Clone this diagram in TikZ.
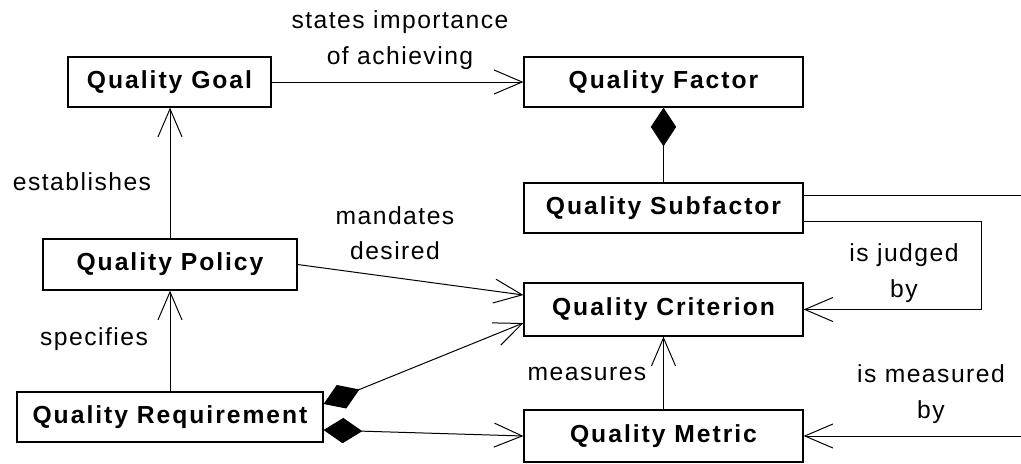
\documentclass[tikz,border=0pt]{standalone}
\usepackage{fontspec}
\setmainfont{Liberation Sans}
\usetikzlibrary{arrows.meta,calc}
\tikzset{
  barb/.tip={Straight Barb[length=21pt,width=18pt]},
  dia/.tip={Diamond[length=29pt,width=19pt]}
}
\begin{document}
\begin{tikzpicture}[x=0.75pt,y=-0.75pt,
  cls/.style={draw,line width=0.9pt,inner sep=0pt,
    font=\fontsize{18.5}{22}\selectfont\bfseries\addfontfeature{LetterSpace=8}},
  lbl/.style={inner sep=0pt,align=center,
    font=\fontsize{18.5}{26.5}\selectfont\addfontfeature{LetterSpace=6}},
  conn/.style={line width=0.75pt}]
\useasboundingbox (0,0) rectangle (1021,464);
\clip (0,0) rectangle (1021,464);

% classes
\node[cls,minimum width=152.25pt,minimum height=37.5pt] (goal)   at (169.5,82)  {Quality Goal};
\node[cls,minimum width=209.25pt,minimum height=37.5pt] (factor) at (663.5,82)  {Quality Factor};
\node[cls,minimum width=209.25pt,minimum height=37.5pt] (subf)   at (663.5,208) {Quality Subfactor};
\node[cls,minimum width=190.5pt,minimum height=38.25pt] (policy) at (170,264.5)  {Quality Policy};
\node[cls,minimum width=209.25pt,minimum height=39.75pt] (crit)  at (663.5,309.5) {Quality Criterion};
\node[cls,minimum width=229.5pt,minimum height=37.5pt]  (req)    at (170,417)    {Quality Requirement};
\node[cls,minimum width=209.25pt,minimum height=39pt]   (metric) at (663.5,436) {Quality Metric};

% bend points of the routed links
\coordinate (jb) at (981,309.5);
\coordinate (mb) at (1060,300);

% associations
\draw[conn,-barb] (goal) -- (factor);
\draw[conn,-barb] (policy.north) -- (policy.north |- goal.south);
\draw[conn,-barb] (req.north) -- (req.north |- policy.south);
\draw[conn,dia-] (factor.south) -- (factor.south |- subf.north);
\draw[conn,-barb] (metric.north) -- (crit.south);
\draw[conn,-barb] (policy.east) -- ($(crit.west)+(0,-14.5)$);
\draw[conn,dia-barb] ($(req.east)+(0,-13)$) -- ($(crit.west)+(0,13.5)$);
\draw[conn,dia-barb] ($(req.east)+(0,13)$) -- (metric.west);
\draw[conn,-barb] ($(subf.east)+(0,13)$) -| (jb) -- (crit.east);
\draw[conn,-barb] ($(subf.east)+(0,-13)$) -| (mb) |- (metric.east);

% role labels
\node[lbl] (lstates)  at (400,40)  {states importance\\of achieving};
\node[lbl] (lestab)   at (82,182)  {establishes};
\node[lbl] (lmand)    at (395,233) {mandates\\desired};
\node[lbl] (lspec)    at (94,339)  {specifies};
\node[lbl] (ljudged)  at (904,273) {is judged\\by};
\node[lbl] (lmeas)    at (587,374) {measures};
\node[lbl] (lmeasby)  at (931,394) {is measured\\by};
\end{tikzpicture}
\end{document}
